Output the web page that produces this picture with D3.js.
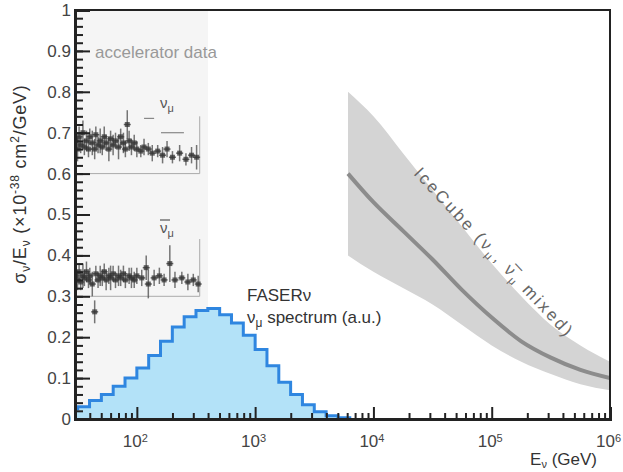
<!DOCTYPE html>
<html>
<head>
<meta charset="utf-8">
<script src="https://cdn.jsdelivr.net/npm/d3@7"></script>
<style>
  body { margin: 0; background: #fff; }
  svg { font-family: "Liberation Sans", Arial, sans-serif; }
</style>
</head>
<body>
<svg id="chart" width="623" height="472"></svg>
<script>
// FASERnu spectrum, log10 bin edges and heights (a.u.)
const faserEdges = [1.4, 1.5, 1.6, 1.7, 1.8, 1.9, 2.0, 2.1, 2.2, 2.3, 2.4, 2.5, 2.6, 2.7, 2.8, 2.9, 3.0, 3.1, 3.2, 3.3, 3.4, 3.5, 3.6, 3.7, 3.8];
const faserSpectrum = [0.025, 0.03, 0.045, 0.06, 0.08, 0.10, 0.125, 0.155, 0.19, 0.225, 0.25, 0.265, 0.27, 0.255, 0.235, 0.205, 0.17, 0.13, 0.09, 0.06, 0.035, 0.018, 0.008, 0.003];

// accelerator data, nu_mu
const numuE   = [30.5, 31.5, 32.5, 33.5, 35, 36, 37.5, 39, 40, 42, 44, 45, 47, 49, 51, 53, 55, 58, 60, 63, 66, 70, 73, 77, 80, 83, 86, 90, 95, 100, 108, 115, 125, 135, 150, 165, 180, 200, 230, 260, 290, 320];
const numuVal = [0.68, 0.66, 0.69, 0.67, 0.70, 0.665, 0.68, 0.66, 0.69, 0.675, 0.66, 0.695, 0.67, 0.68, 0.665, 0.69, 0.675, 0.66, 0.685, 0.67, 0.68, 0.665, 0.69, 0.675, 0.66, 0.72, 0.68, 0.665, 0.675, 0.66, 0.655, 0.665, 0.66, 0.65, 0.655, 0.645, 0.66, 0.64, 0.65, 0.635, 0.645, 0.64];
const numuErr = [0.02, 0.03, 0.025, 0.02, 0.03, 0.02, 0.025, 0.02, 0.02, 0.03, 0.025, 0.02, 0.02, 0.03, 0.02, 0.025, 0.02, 0.03, 0.02, 0.025, 0.02, 0.03, 0.02, 0.025, 0.02, 0.035, 0.025, 0.02, 0.02, 0.02, 0.015, 0.02, 0.015, 0.02, 0.015, 0.02, 0.02, 0.015, 0.02, 0.015, 0.02, 0.03];

// accelerator data, anti nu_mu
const nubarE   = [30.5, 31.5, 32.5, 33.5, 35, 36, 37.5, 39, 40, 42, 44, 45, 47, 49, 51, 53, 55, 58, 60, 63, 66, 70, 73, 77, 80, 86, 90, 95, 100, 110, 120, 125, 140, 155, 170, 190, 210, 240, 270, 300, 330];
const nubarVal = [0.35, 0.34, 0.36, 0.335, 0.35, 0.345, 0.36, 0.34, 0.35, 0.33, 0.262, 0.355, 0.34, 0.35, 0.345, 0.36, 0.34, 0.35, 0.345, 0.355, 0.34, 0.35, 0.345, 0.355, 0.34, 0.35, 0.345, 0.34, 0.35, 0.345, 0.37, 0.33, 0.345, 0.35, 0.34, 0.38, 0.34, 0.345, 0.335, 0.34, 0.33];
const nubarErr = [0.02, 0.025, 0.02, 0.02, 0.03, 0.02, 0.025, 0.02, 0.02, 0.03, 0.028, 0.02, 0.02, 0.025, 0.02, 0.02, 0.025, 0.02, 0.03, 0.02, 0.02, 0.025, 0.02, 0.02, 0.02, 0.02, 0.025, 0.02, 0.02, 0.02, 0.03, 0.035, 0.02, 0.02, 0.015, 0.045, 0.02, 0.015, 0.02, 0.015, 0.02];

// wide-bin points [E low, E high, value]
const numuWide = [[160, 250, 0.70], [115, 140, 0.735]];
// inset frames of the accelerator plots [lower value, upper value]
const insetFrames = [[0.6, 0.74], [0.3, 0.44]];
const insetRightE = 340;
const acceleratorMaxE = 400;

// IceCube band, log10(E) and sigma/E
const iceLogE  = [3.785, 4.0, 4.25, 4.5, 4.75, 5.0, 5.25, 5.5, 5.75, 6.0];
const iceMid   = [0.60, 0.53, 0.46, 0.39, 0.315, 0.248, 0.19, 0.15, 0.12, 0.10];
const iceUpper = [0.80, 0.74, 0.65, 0.56, 0.47, 0.38, 0.30, 0.23, 0.18, 0.14];
const iceLower = [0.40, 0.36, 0.32, 0.28, 0.23, 0.18, 0.14, 0.11, 0.085, 0.07];

const yMajor = [0, 0.1, 0.2, 0.3, 0.4, 0.5, 0.6, 0.7, 0.8, 0.9, 1];
const xMajor = [1e2, 1e3, 1e4, 1e5, 1e6];

const svg = d3.select("#chart");
const L = 75, R = 610, T = 10, B = 419;

const x = d3.scaleLog().domain([30, 1e6]).range([L, R]);
const y = d3.scaleLinear().domain([0, 1]).range([B, T]);

svg.append("defs").append("clipPath").attr("id", "plot")
  .append("rect").attr("x", L).attr("y", T).attr("width", R - L).attr("height", B - T);

const g = svg.append("g").attr("clip-path", "url(#plot)");

// accelerator shading
g.append("rect")
  .attr("x", L).attr("y", T)
  .attr("width", x(acceleratorMaxE) - L).attr("height", B - T)
  .attr("fill", "#f5f5f5");

// inset frames
insetFrames.forEach(f => {
  g.append("path")
    .attr("d", "M" + L + "," + y(f[0]) + "H" + x(insetRightE) + "V" + y(f[1]))
    .attr("fill", "none").attr("stroke", "#aaa").attr("stroke-width", 1);
});

function drawPoints(E, V, Er) {
  const pts = E.map((e, i) => ({ e: e, v: V[i], er: Er[i] }));
  g.selectAll(null).data(pts).enter().append("line")
    .attr("x1", d => x(d.e)).attr("x2", d => x(d.e))
    .attr("y1", d => y(d.v - d.er)).attr("y2", d => y(d.v + d.er))
    .attr("stroke", "#555").attr("stroke-width", 1.5).attr("opacity", 0.8);
  g.selectAll(null).data(pts).enter().append("line")
    .attr("x1", d => x(d.e) - 3.5).attr("x2", d => x(d.e) + 3.5)
    .attr("y1", d => y(d.v)).attr("y2", d => y(d.v))
    .attr("stroke", "#444").attr("stroke-width", 1.5).attr("opacity", 0.8);
  g.selectAll(null).data(pts).enter().append("rect")
    .attr("x", d => x(d.e) - 2.5).attr("y", d => y(d.v) - 2.5)
    .attr("width", 5).attr("height", 5)
    .attr("fill", "#333").attr("opacity", 0.75);
}
drawPoints(numuE, numuVal, numuErr);
drawPoints(nubarE, nubarVal, nubarErr);

g.selectAll(null).data(numuWide).enter().append("line")
  .attr("x1", d => x(d[0])).attr("x2", d => x(d[1]))
  .attr("y1", d => y(d[2])).attr("y2", d => y(d[2]))
  .attr("stroke", "#888").attr("stroke-width", 1.2);

// labels nu_mu and anti nu_mu
function nuLabel(px, py, bar) {
  const t = svg.append("text").attr("x", px).attr("y", py)
    .attr("font-size", 15).attr("fill", "#555");
  t.append("tspan").text("ν");
  t.append("tspan").attr("dy", 4).attr("font-size", 11).text("μ");
  if (bar) {
    svg.append("line").attr("x1", px).attr("x2", px + 10)
      .attr("y1", py - 13).attr("y2", py - 13)
      .attr("stroke", "#555").attr("stroke-width", 1.2);
  }
}
nuLabel(160, 108, false);
nuLabel(160, 233, true);

svg.append("text").attr("x", 95).attr("y", 58)
  .attr("font-size", 17).attr("fill", "#999")
  .text("accelerator data");

// FASERnu histogram
const hist = faserSpectrum.map((v, i) => ({ e: Math.pow(10, faserEdges[i]), v: v }));
hist.push({ e: Math.pow(10, faserEdges[faserEdges.length - 1]), v: 0 });

g.append("path")
  .attr("d", d3.area().curve(d3.curveStepAfter)
    .x(d => x(d.e)).y0(y(0)).y1(d => y(d.v))(hist))
  .attr("fill", "#b3e2f8");
g.append("path")
  .attr("d", d3.line().curve(d3.curveStepAfter)
    .x(d => x(d.e)).y(d => y(d.v))(hist))
  .attr("fill", "none").attr("stroke", "#2f86e0").attr("stroke-width", 3);

svg.append("text").attr("x", 247).attr("y", 301)
  .attr("font-size", 17).attr("fill", "#333").text("FASERν");
const st = svg.append("text").attr("x", 247).attr("y", 323)
  .attr("font-size", 17).attr("fill", "#333");
st.append("tspan").text("ν");
st.append("tspan").attr("dy", 4).attr("font-size", 12).text("μ");
st.append("tspan").attr("dy", -4).text(" spectrum (a.u.)");

// IceCube band
const ice = iceLogE.map((l, i) => ({ e: Math.pow(10, l), m: iceMid[i], lo: iceLower[i], hi: iceUpper[i] }));
g.append("path")
  .attr("d", d3.area().curve(d3.curveMonotoneX)
    .x(d => x(d.e)).y0(d => y(d.lo)).y1(d => y(d.hi))(ice))
  .attr("fill", "#d4d4d4");
g.append("path")
  .attr("d", d3.line().curve(d3.curveMonotoneX)
    .x(d => x(d.e)).y(d => y(d.m))(ice))
  .attr("fill", "none").attr("stroke", "#8c8c8c").attr("stroke-width", 4);

const it = svg.append("text")
  .attr("transform", "translate(413,174) rotate(47)")
  .attr("font-size", 17).attr("fill", "#666").attr("letter-spacing", 2.6);
it.append("tspan").text("IceCube (ν");
it.append("tspan").attr("dy", 4).attr("font-size", 11).text("μ");
it.append("tspan").attr("dy", -4).text(", ν\u0305");
it.append("tspan").attr("dy", 4).attr("font-size", 11).text("μ");
it.append("tspan").attr("dy", -4).text(" mixed)");

// frame
svg.append("path")
  .attr("d", "M" + L + "," + T + "H" + R + "V" + B)
  .attr("fill", "none").attr("stroke", "#222").attr("stroke-width", 2);

// y axis
const yMinor = d3.range(0, 1.0001, 0.02);
svg.append("g").attr("transform", "translate(" + L + ",0)")
  .call(d3.axisLeft(y).tickValues(yMinor).tickSize(-8).tickFormat(""))
  .call(a => a.select(".domain").remove())
  .selectAll("line").attr("stroke", "#222").attr("stroke-width", 2);
const yAx = svg.append("g").attr("transform", "translate(" + L + ",0)")
  .call(d3.axisLeft(y).tickValues(yMajor).tickSize(-15).tickPadding(4)
    .tickFormat(d => d === 0 ? "0" : d === 1 ? "1" : d.toFixed(1)));
yAx.select(".domain").attr("stroke", "#222").attr("stroke-width", 3);
yAx.selectAll("line").attr("stroke", "#222").attr("stroke-width", 2);
yAx.selectAll("text").attr("font-size", 17).attr("fill", "#444")
  .attr("font-family", "Liberation Sans, Arial, sans-serif");

// x axis
const xMinor = [];
[10, 100, 1e3, 1e4, 1e5].forEach(dec => {
  for (let k = 2; k <= 9; k++) if (dec * k > 30) xMinor.push(dec * k);
});
svg.append("g").attr("transform", "translate(0," + B + ")")
  .call(d3.axisBottom(x).tickValues(xMinor).tickSize(-6).tickFormat(""))
  .call(a => a.select(".domain").remove())
  .selectAll("line").attr("stroke", "#222").attr("stroke-width", 2);
const xAx = svg.append("g").attr("transform", "translate(0," + B + ")")
  .call(d3.axisBottom(x).tickValues(xMajor).tickSize(-12).tickPadding(16));
xAx.select(".domain").attr("stroke", "#222").attr("stroke-width", 3);
xAx.selectAll("line").attr("stroke", "#222").attr("stroke-width", 2);
xAx.selectAll("text").each(function (d) {
  const t = d3.select(this);
  t.text("").attr("font-size", 17).attr("fill", "#444")
    .attr("font-family", "Liberation Sans, Arial, sans-serif")
    .attr("dy", "0.71em").attr("dx", -2);
  t.append("tspan").text("10");
  t.append("tspan").attr("dy", "-0.5em").attr("font-size", 11).text(Math.round(Math.log10(d)));
});

// axis titles
const xt = svg.append("text").attr("x", 597).attr("y", 465)
  .attr("text-anchor", "end").attr("font-size", 17).attr("fill", "#333");
xt.append("tspan").text("E");
xt.append("tspan").attr("dy", 3).attr("font-size", 11).text("ν");
xt.append("tspan").attr("dy", -3).text(" (GeV)");

const yt = svg.append("text")
  .attr("transform", "translate(26,184) rotate(-90)")
  .attr("text-anchor", "middle").attr("font-size", 18).attr("fill", "#333")
  .attr("letter-spacing", 0.8);
yt.append("tspan").text("σ");
yt.append("tspan").attr("dy", 4).attr("font-size", 12).text("ν");
yt.append("tspan").attr("dy", -4).text("/E");
yt.append("tspan").attr("dy", 4).attr("font-size", 12).text("ν");
yt.append("tspan").attr("dy", -4).text(" (×10");
yt.append("tspan").attr("dy", -7).attr("font-size", 12).text("-38");
yt.append("tspan").attr("dy", 7).text(" cm");
yt.append("tspan").attr("dy", -7).attr("font-size", 12).text("2");
yt.append("tspan").attr("dy", 7).text("/GeV)");
</script>
</body>
</html>
